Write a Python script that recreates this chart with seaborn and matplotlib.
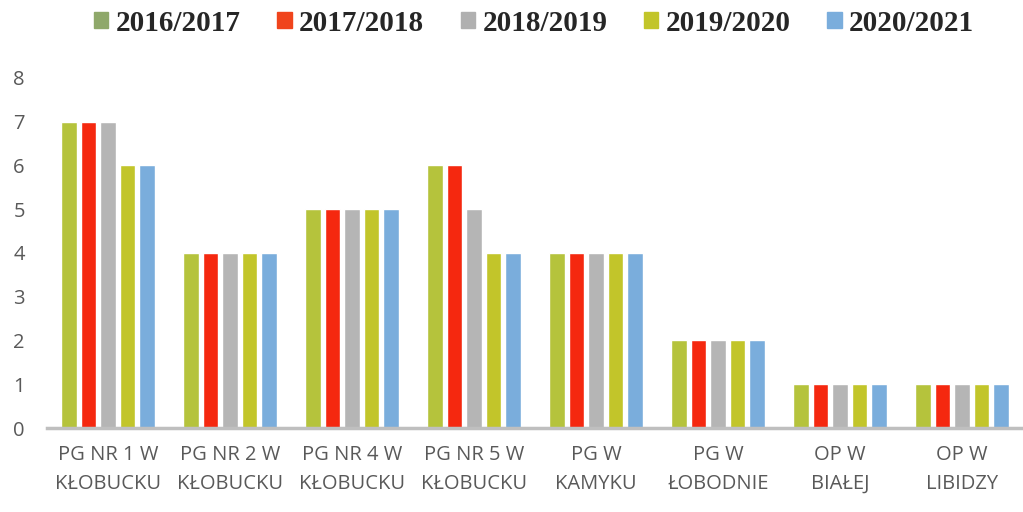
import pandas as pd
import matplotlib.pyplot as plt
import seaborn as sns

schools = ["PG NR 1 W\nKŁOBUCKU", "PG NR 2 W\nKŁOBUCKU", "PG NR 4 W\nKŁOBUCKU", "PG NR 5 W\nKŁOBUCKU",
           "PG W\nKAMYKU", "PG W\nŁOBODNIE", "OP W\nBIAŁEJ", "OP W\nLIBIDZY"]
years = ["2016/2017", "2017/2018", "2018/2019", "2019/2020", "2020/2021"]

v_2016 = [7, 4, 5, 6, 4, 2, 1, 1]
v_2017 = [7, 4, 5, 6, 4, 2, 1, 1]
v_2018 = [7, 4, 5, 5, 4, 2, 1, 1]
v_2019 = [6, 4, 5, 4, 4, 2, 1, 1]
v_2020 = [6, 4, 5, 4, 4, 2, 1, 1]

colors = ["#b5c33c", "#f5280f", "#b5b5b5", "#c2c52a", "#7aaddc"]
legend_colors = ["#8fa86a", "#f0441c", "#b0b0b0", "#c2c52a", "#7aaddc"]

rows = []
for year, vals in zip(years, [v_2016, v_2017, v_2018, v_2019, v_2020]):
    for s, v in zip(schools, vals):
        rows.append({"school": s, "year": year, "value": v})
df = pd.DataFrame(rows)

sns.set_style("white")
fig = plt.figure(figsize=(10.23, 5.12), dpi=100)
ax = fig.add_axes([0.046, 0.164, 0.954, 0.684])

sns.barplot(data=df, x="school", y="value", hue="year", palette=colors,
            saturation=1, width=0.8, gap=0.2, ax=ax, legend=False)

ax.set_ylim(0, 8)
ax.set_xlim(-0.5, len(schools) - 0.5)
ax.set_yticks(range(0, 9))
ax.set_xlabel("")
ax.set_ylabel("")
for side in ["top", "right", "left"]:
    ax.spines[side].set_visible(False)
ax.spines["bottom"].set_color("#bfbfbf")
ax.spines["bottom"].set_linewidth(2.5)
ax.tick_params(axis="both", length=0, labelsize=14.5, colors="#595959")
for lab in ax.get_xticklabels() + ax.get_yticklabels():
    lab.set_family("Open Sans")
for lab in ax.get_xticklabels():
    lab.set_linespacing(1.6)
ax.tick_params(axis="x", pad=12)
ax.tick_params(axis="y", pad=16)

handles = [plt.Rectangle((0, 0), 1, 1, color=c) for c in legend_colors]
fig.legend(handles, years, loc="center", bbox_to_anchor=(0.522, 0.955), ncol=5,
           frameon=False, handlelength=0.5, handleheight=0.5, handletextpad=0.25,
           columnspacing=1.25, prop={"family": "Liberation Serif", "weight": "bold", "size": 21})

plt.savefig("out.png", dpi=100)
